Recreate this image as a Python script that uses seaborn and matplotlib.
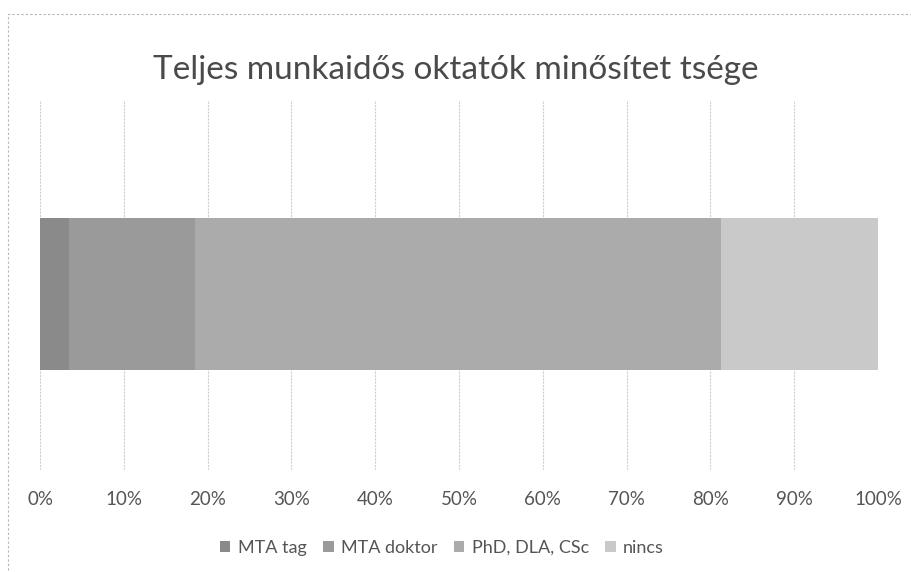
import matplotlib
matplotlib.use('Agg')
import matplotlib.pyplot as plt
import seaborn as sns
import pandas as pd
from matplotlib.patches import Patch, Rectangle

# Data (shares of full-time teaching staff)
categories = ['MTA tag', 'MTA doktor', 'PhD, DLA, CSc', 'nincs']
shares = [3.5, 15.0, 62.8, 18.7]
colors = ['#8a8a8a', '#9a9a9a', '#ababab', '#c9c9c9']
tick_values = [0, 10, 20, 30, 40, 50, 60, 70, 80, 90, 100]
tick_labels = ['0%', '10%', '20%', '30%', '40%', '50%', '60%', '70%', '80%', '90%', '100%']

sns.set_theme(style='white')
plt.rcParams['font.family'] = ['Lato', 'DejaVu Sans']

df = pd.DataFrame({'cat': categories, 'share': shares})
df['pct'] = df['share'] / df['share'].sum() * 100
df['cum'] = df['pct'].cumsum()
df['row'] = ''

fig = plt.figure(figsize=(9.11, 5.72), dpi=100)
ax = fig.add_axes([40 / 911, 1 - 470 / 572, 838 / 911, 370 / 572])

# stacked bar: draw the cumulative totals from largest to smallest
for i in reversed(range(len(df))):
    sns.barplot(x=[df['cum'][i]], y=[df['row'][i]], orient='h', color=colors[i],
                width=0.41, saturation=1, ax=ax, edgecolor='none')

ax.set_xlim(0, 100)
ax.set_ylim(0.476, -0.524)
ax.set_xticks(tick_values)
ax.set_xticklabels(tick_labels, fontsize=13.5, color='#555555')
ax.set_yticks([])
ax.set_xlabel('')
ax.set_ylabel('')
ax.tick_params(axis='x', length=0, pad=15)
ax.grid(axis='x', color='#cfcfcf', linewidth=0.8, linestyle=(0, (2, 1)))
ax.set_axisbelow(True)
for s in ax.spines.values():
    s.set_visible(False)

fig.text(0.5, 1 - 70 / 572, 'Teljes munkaidős oktatók minősítet tsége', ha='center', va='center',
         fontsize=24, color='#4a4a4a')

handles = [Patch(facecolor=c, edgecolor='none', label=l) for c, l in zip(colors, categories)]
fig.legend(handles=handles, loc='center', bbox_to_anchor=(0.485, 1 - 548 / 572), ncol=4,
           frameon=False, fontsize=13, handlelength=0.6, handleheight=0.6,
           handletextpad=0.4, columnspacing=0.9, labelcolor='#555555')

# dotted outer frame of the chart area from the scan
fig.patches.append(Rectangle((8 / 911, -0.1), 1.2, 1 - 14 / 572 + 0.1, transform=fig.transFigure,
                             fill=False, edgecolor='#b5b5b5', linewidth=0.8, linestyle=(0, (2, 2))))

fig.savefig('out.png', dpi=100)
